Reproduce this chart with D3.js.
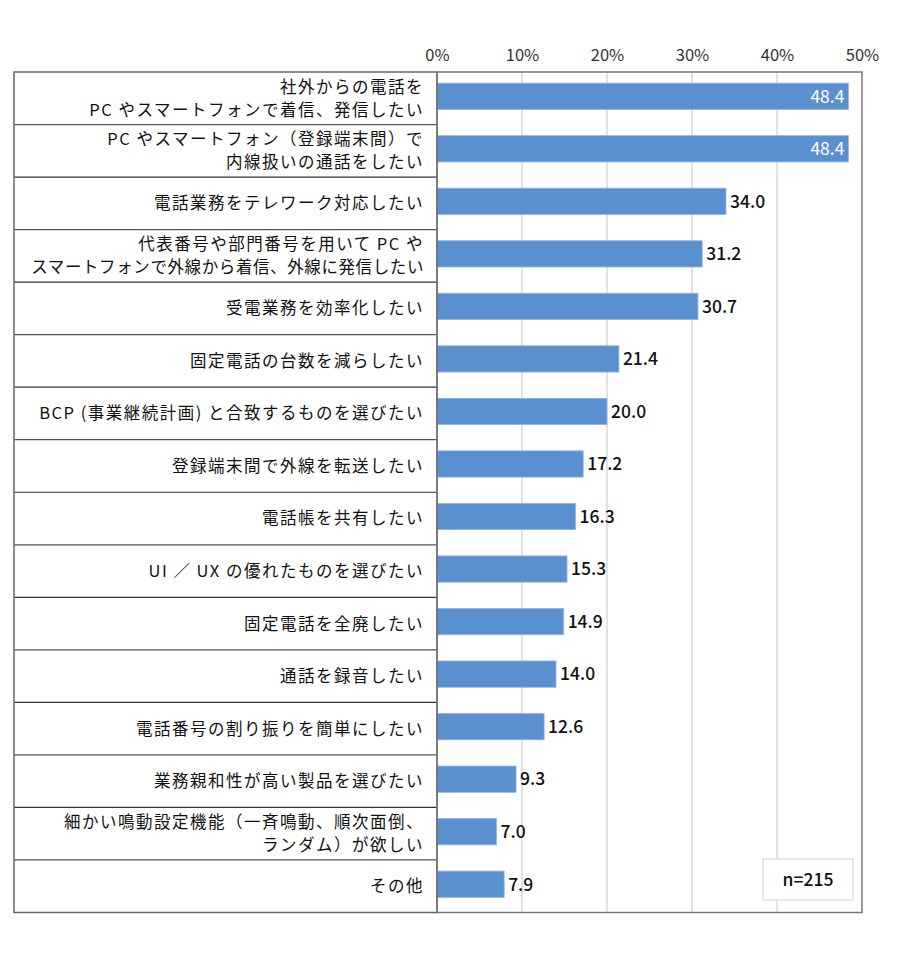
<!DOCTYPE html>
<html>
<head>
<meta charset="utf-8">
<script src="https://cdn.jsdelivr.net/npm/d3@7"></script>
<style>
  body { margin: 0; background: #fff; }
  text { font-family: "Noto Sans CJK JP", "Noto Sans", sans-serif; }
</style>
</head>
<body>
<div id="chart"></div>
<script>
// data
let labels = [
    ["社外からの電話を", "PC やスマートフォンで着信、発信したい"],
    ["PC やスマートフォン（登録端末間）で", "内線扱いの通話をしたい"],
    ["電話業務をテレワーク対応したい"],
    ["代表番号や部門番号を用いて PC や", "スマートフォンで外線から着信、外線に発信したい"],
    ["受電業務を効率化したい"],
    ["固定電話の台数を減らしたい"],
    ["BCP (事業継続計画) と合致するものを選びたい"],
    ["登録端末間で外線を転送したい"],
    ["電話帳を共有したい"],
    ["UI ／ UX の優れたものを選びたい"],
    ["固定電話を全廃したい"],
    ["通話を録音したい"],
    ["電話番号の割り振りを簡単にしたい"],
    ["業務親和性が高い製品を選びたい"],
    ["細かい鳴動設定機能（一斉鳴動、順次面倒、", "ランダム）が欲しい"],
    ["その他"]
];
let values = [48.4, 48.4, 34.0, 31.2, 30.7, 21.4, 20.0, 17.2, 16.3, 15.3, 14.9, 14.0, 12.6, 9.3, 7.0, 7.9];
let ticks = [0, 10, 20, 30, 40, 50];
let sampleNote = "n=215";

let width = 900, height = 954;
let tableLeft = 14, plotLeft = 437, plotRight = 862, plotTop = 72, plotBottom = 912.5;

let svg = d3.select("#chart").append("svg")
    .attr("width", width)
    .attr("height", height);

let x = d3.scaleLinear().domain([0, 50]).range([plotLeft, plotRight]);
let y = d3.scaleBand()
    .domain(d3.range(values.length))
    .range([plotTop, plotBottom])
    .paddingInner(0.5)
    .paddingOuter(0.25);
let rowH = (plotBottom - plotTop) / values.length;

// gridlines
svg.append("g").selectAll("line").data(ticks.slice(1, -1)).enter()
    .append("line")
    .attr("x1", d => x(d)).attr("x2", d => x(d))
    .attr("y1", plotTop).attr("y2", plotBottom)
    .attr("stroke", "#d9d9d9")
    .attr("stroke-width", 1.5);

// top axis
let axis = svg.append("g")
    .attr("transform", "translate(0," + (plotTop - 10) + ")")
    .call(d3.axisTop(x).tickValues(ticks).tickSize(0).tickPadding(0).tickFormat(d => d + "%"));
axis.select(".domain").remove();
axis.selectAll("text")
    .style("font-size", "16.5px")
    .attr("fill", "#333")
    .attr("dy", "-1px");

// bars
svg.append("g").selectAll("rect").data(values).enter()
    .append("rect")
    .attr("x", x(0))
    .attr("y", (d, i) => y(i) - 2)
    .attr("width", d => x(d) - x(0))
    .attr("height", y.bandwidth())
    .attr("fill", "#5b90d0")
    .attr("stroke", "#8fb4e3")
    .attr("stroke-width", 0.8);

// value labels
svg.append("g").selectAll("text").data(values).enter()
    .append("text")
    .attr("x", d => d > 45 ? x(d) - 4 : x(d) + 4)
    .attr("y", (d, i) => y(i) - 2 + y.bandwidth() / 2)
    .attr("dy", "0.36em")
    .attr("text-anchor", d => d > 45 ? "end" : "start")
    .attr("fill", d => d > 45 ? "#fff" : "#111")
    .style("font-size", "17.5px")
    .style("font-weight", d => d > 45 ? 400 : 500)
    .text(d => d.toFixed(1));

// label table
let table = svg.append("g");
table.selectAll("line").data(d3.range(1, values.length)).enter()
    .append("line")
    .attr("x1", tableLeft).attr("x2", plotLeft)
    .attr("y1", i => plotTop + i * rowH).attr("y2", i => plotTop + i * rowH)
    .attr("stroke", (i) => i % 2 ? "#555" : "#333")
    .attr("stroke-width", 1.2);

labels.forEach(function(lines, i) {
    let cy = plotTop + (i + 0.5) * rowH;
    lines.forEach(function(t, j) {
        let lbl = table.append("text")
            .attr("x", 424)
            .attr("y", cy + (j - (lines.length - 1) / 2) * 23)
            .attr("dy", "0.36em")
            .attr("text-anchor", "end")
            .attr("fill", "#111")
            .style("font-size", "16.5px")
            .style("letter-spacing", "1.5px")
            .text(t);
        // squeeze lines that would run past the left edge of the table
        if (lbl.node().getComputedTextLength() > 400) {
            lbl.style("letter-spacing", "0.6px");
        }
    });
});

// frames
svg.append("rect")
    .attr("x", tableLeft).attr("y", plotTop)
    .attr("width", plotLeft - tableLeft).attr("height", plotBottom - plotTop)
    .attr("fill", "none").attr("stroke", "#666").attr("stroke-width", 1.5);
svg.append("rect")
    .attr("x", plotLeft).attr("y", plotTop)
    .attr("width", plotRight - plotLeft).attr("height", plotBottom - plotTop)
    .attr("fill", "none").attr("stroke", "#777").attr("stroke-width", 1.5);

// n note
svg.append("rect")
    .attr("x", 763).attr("y", 859)
    .attr("width", 90).attr("height", 41)
    .attr("fill", "#fff").attr("stroke", "#d9d9d9").attr("stroke-width", 1.2);
svg.append("text")
    .attr("x", 808).attr("y", 879.5)
    .attr("dy", "0.36em")
    .attr("text-anchor", "middle")
    .style("font-size", "17.5px")
    .style("font-weight", 500)
    .attr("fill", "#111")
    .text(sampleNote);
</script>
</body>
</html>
